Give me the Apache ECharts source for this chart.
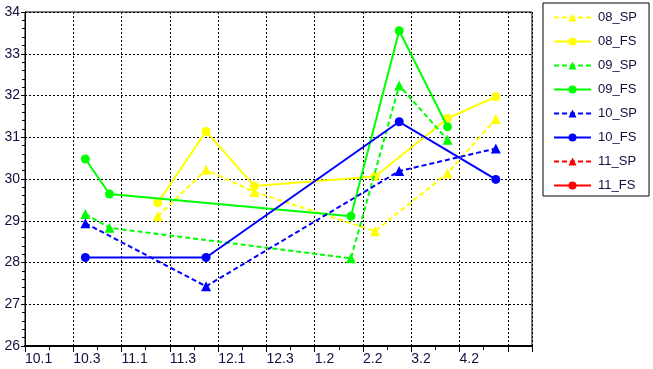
<!DOCTYPE html>
<html>
<head>
<meta charset="utf-8">
<script src="https://cdn.jsdelivr.net/npm/echarts@6/dist/echarts.min.js"></script>
<style>
html,body{margin:0;padding:0;background:#fff;}
#c{width:653px;height:369px;}
</style>
</head>
<body>
<div id="c"></div>
<script>
// x tick labels (left-aligned at each integer tick)
const xTickLabels = ['10.1', '10.3', '11.1', '11.3', '12.1', '12.3', '1.2', '2.2', '3.2', '4.2', ''];
// x positions of the measurements
const xs = [1.25, 1.75, 2.75, 3.75, 4.75, 6.75, 7.25, 7.75, 8.75, 9.75];
const seriesNames = ['08_SP', '08_FS', '09_SP', '09_FS', '10_SP', '10_FS', '11_SP', '11_FS'];
const s08_SP = [null, null, 29.11, 30.22, 29.69, null, 28.75, null, 30.14, 31.44];
const s08_FS = [null, null, 29.43, 31.14, 29.83, null, 30.06, null, 31.45, 31.97];
const s09_SP = [29.16, 28.83, null, null, null, 28.10, null, 32.24, 30.94, null];
const s09_FS = [30.48, 29.64, null, null, null, 29.11, null, 33.55, 31.25, null];
const s10_SP = [28.94, null, null, 27.43, null, null, null, 30.19, null, 30.73];
const s10_FS = [28.12, null, null, 28.12, null, null, null, 31.37, null, 29.99];
const s11_SP = [null, null, null, null, null, null, null, null, null, null];
const s11_FS = [null, null, null, null, null, null, null, null, null, null];

const seriesValues = [s08_SP, s08_FS, s09_SP, s09_FS, s10_SP, s10_FS, s11_SP, s11_FS];
const seriesColors = ['#ffff00', '#ffff00', '#00ff00', '#00ff00', '#0000ff', '#0000ff', '#ff0000', '#ff0000'];

const textColor = '#101040';
const axisFont = "'Liberation Sans Narrow', 'Arial Narrow', 'Liberation Sans', Arial, sans-serif";

function pairs(vals) {
  const out = [];
  vals.forEach((v, i) => { if (v !== null) out.push([xs[i], v]); });
  return out;
}

const series = seriesNames.map((name, i) => {
  const sp = name.endsWith('SP');
  return {
    name: name,
    type: 'line',
    data: pairs(seriesValues[i]),
    symbol: sp ? 'triangle' : 'circle',
    symbolSize: sp ? 10 : 9,
    showAllSymbol: true,
    lineStyle: { color: seriesColors[i], width: 2, type: sp ? [5, 3] : 'solid' },
    itemStyle: { color: seriesColors[i], borderWidth: 0 },
    emphasis: { disabled: true },
    z: 2 + i
  };
});

const chart = echarts.init(document.getElementById('c'), null, { renderer: 'canvas' });
chart.setOption({
  animation: false,
  backgroundColor: '#ffffff',
  grid: {
    left: 25, right: 121, top: 12, bottom: 23,
    show: true, borderColor: '#000', borderWidth: 1, backgroundColor: 'transparent',
    containLabel: false, outerBoundsMode: 'none'
  },
  legend: {
    orient: 'vertical',
    left: 543, top: 3,
    padding: [8, 12, 4, 10],
    itemWidth: 37, itemHeight: 10, itemGap: 11,
    borderColor: '#000', borderWidth: 1, borderRadius: 0,
    backgroundColor: '#fff',
    textStyle: { color: textColor, fontSize: 13, fontFamily: "'Liberation Sans', Arial, sans-serif", padding: [0, 0, 0, 2] },
    data: seriesNames,
    selectedMode: false
  },
  xAxis: {
    type: 'value',
    min: 0, max: 10.5, interval: 1,
    axisLine: { show: true, onZero: false, lineStyle: { color: '#000', width: 2 } },
    axisTick: { show: true, inside: false, length: 6, lineStyle: { color: '#000', width: 1 } },
    minorTick: { show: true, splitNumber: 2, length: 4, lineStyle: { color: '#000', width: 1 } },
    splitLine: { show: true, lineStyle: { color: '#000', width: 1, type: [2, 2] } },
    axisLabel: {
      show: true, color: textColor, fontSize: 14, fontFamily: axisFont,
      align: 'left', margin: 6, showMinLabel: true, showMaxLabel: true,
      formatter: function (v) {
        const r = Math.round(v);
        if (Math.abs(v - r) > 1e-6) return '';
        return xTickLabels[r] || '';
      }
    }
  },
  yAxis: {
    type: 'value',
    min: 26, max: 34, interval: 1,
    axisLine: { show: true, onZero: false, lineStyle: { color: '#000', width: 1 } },
    axisTick: { show: true, inside: false, length: 4, lineStyle: { color: '#000', width: 1 } },
    minorTick: { show: true, splitNumber: 5, length: 3, lineStyle: { color: '#000', width: 1 } },
    splitLine: { show: true, lineStyle: { color: '#000', width: 1, type: [2, 2] } },
    axisLabel: { color: textColor, fontSize: 14, fontFamily: axisFont, margin: 5 }
  },
  series: series
});
</script>
</body>
</html>
